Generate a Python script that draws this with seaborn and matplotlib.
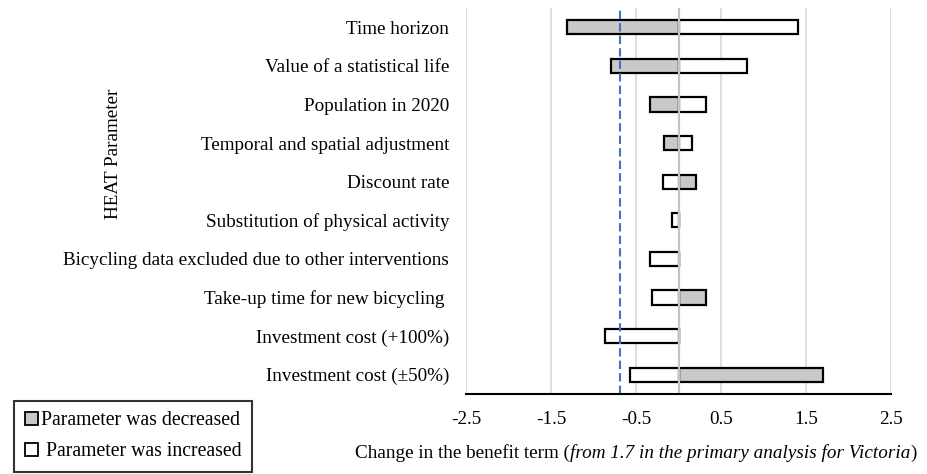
import numpy as np
import pandas as pd
import seaborn as sns
import matplotlib.pyplot as plt
from matplotlib.patches import Patch

sns.set_theme(style='white')
plt.rcParams['font.family'] = ['Liberation Serif', 'DejaVu Serif']
plt.rcParams['text.color'] = 'black'
plt.rcParams['xtick.color'] = 'black'
plt.rcParams['ytick.color'] = 'black'

# values
params = ['Time horizon', 'Value of a statistical life', 'Population in 2020',
          'Temporal and spatial adjustment', 'Discount rate',
          'Substitution of physical activity',
          'Bicycling data excluded due to other interventions',
          'Take-up time for new bicycling ', 'Investment cost (+100%)',
          'Investment cost (\u00b150%)']
decreased = [-1.31, -0.80, -0.33, -0.165, 0.20, 0.0, 0.0, 0.32, 0.0, 1.70]
increased = [1.40, 0.81, 0.32, 0.16, -0.18, -0.08, -0.33, -0.31, -0.86, -0.57]
ticks = [-2.5, -1.5, -0.5, 0.5, 1.5, 2.5]
ref_line = -0.69

df = pd.DataFrame({'param': params, 'decreased': decreased, 'increased': increased})

fig = plt.figure(figsize=(9.27, 4.74), dpi=100)
ax = fig.add_axes([466 / 927, 1 - 394 / 474, 425 / 927, 386 / 474])

fs = 13.8
for col, fill in [('decreased', '#c9c9c9'), ('increased', 'white')]:
    sns.barplot(data=df, x=col, y='param', orient='h', color=fill, saturation=1,
                edgecolor='black', linewidth=1.6, width=0.37, ax=ax, zorder=3)

for t in ticks:
    ax.axvline(t, color='#d9d9d9', lw=1.2, zorder=1)
ax.axvline(0, color='#c4c4c4', lw=1.6, zorder=4)
ax.axvline(ref_line, color='#4472c4', lw=1.5, ls=(0, (4, 2)), zorder=5)

ax.set_xlim(-2.5, 2.5)
ax.set_ylim(9.5, -0.5)
ax.set_xticks(ticks)
ax.set_xticklabels([str(t) for t in ticks], fontsize=fs)
ax.tick_params(axis='x', length=0, pad=12)
ax.tick_params(axis='y', length=0, pad=12, labelsize=fs)
ax.set_xlabel('')
ax.set_ylabel('')
for s in ['top', 'right', 'left']:
    ax.spines[s].set_visible(False)
ax.spines['bottom'].set_color('black')
ax.spines['bottom'].set_linewidth(1.5)
ax.spines['bottom'].set_zorder(6)

fig.text(113 / 927, 1 - 154 / 474, 'HEAT Parameter', rotation=90,
         ha='center', va='center', fontsize=fs)

# x label with italic middle part
t1 = fig.text(355 / 927, 1 - 453 / 474, 'Change in the benefit term (',
              ha='left', va='center', fontsize=fs)
t2 = ax.annotate('from 1.7 in the primary analysis for Victoria', xy=(1, 0),
                 xycoords=t1, va='bottom', ha='left', fontsize=fs, style='italic')
ax.annotate(')', xy=(1, 0), xycoords=t2, va='bottom', ha='left', fontsize=fs)

handles = [Patch(facecolor='#c9c9c9', edgecolor='black', lw=1.3),
           Patch(facecolor='white', edgecolor='black', lw=1.3)]
leg = fig.legend(handles, ['Parameter was decreased', ' Parameter was increased'],
                 loc='lower left', bbox_to_anchor=(12 / 927, 0 / 474),
                 fontsize=14.2, frameon=True, handlelength=0.65, handleheight=0.65,
                 handletextpad=0.15, labelspacing=0.6, borderpad=0.55,
                 borderaxespad=0.1, fancybox=False, edgecolor='black')
leg.get_frame().set_linewidth(1.5)

fig.savefig('out.png', dpi=100)
